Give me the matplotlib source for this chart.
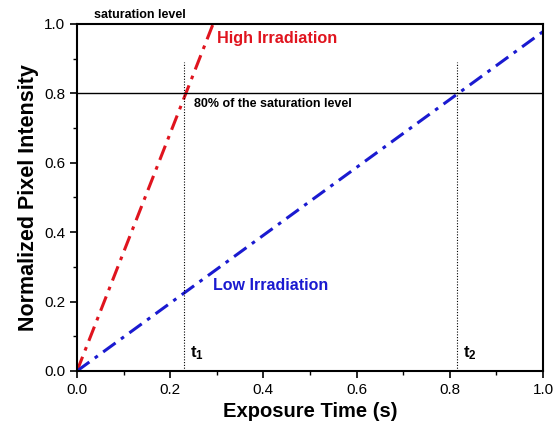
import matplotlib.pyplot as plt
from matplotlib.ticker import MultipleLocator

plt.rcParams['font.family'] = ['Liberation Sans', 'DejaVu Sans']
plt.rcParams['mathtext.fontset'] = 'custom'
plt.rcParams['mathtext.rm'] = 'Liberation Sans'
plt.rcParams['mathtext.bf'] = 'Liberation Sans:bold'

# Data
high_time = [0.0, 0.292]
high_intensity = [0.0, 1.0]
low_time = [0.0, 1.0]
low_intensity = [0.0, 0.978]
t1 = 0.229
t2 = 0.816
level_80 = 0.8

fig = plt.figure(figsize=(5.59, 4.30), dpi=100)
ax = fig.add_axes([77 / 559, 59 / 430, 466 / 559, 347 / 430])

dashdot = (0, (5, 2.2, 1.2, 2.2))
ax.plot(high_time, high_intensity, color='#e0141e', lw=2.2, linestyle=dashdot)
ax.plot(low_time, low_intensity, color='#1a1ad0', lw=2.2, linestyle=dashdot)

ax.axhline(level_80, color='black', lw=1)
ax.plot([t1, t1], [0, 0.89], color='black', lw=0.8, linestyle=(0, (1, 1.5)))
ax.plot([t2, t2], [0, 0.89], color='black', lw=0.8, linestyle=(0, (1, 1.5)))

ax.text(0.036, 1.026, 'saturation level', fontsize=9, fontweight='bold', va='center')
ax.text(0.25, 0.769, '80% of the saturation level', fontsize=9, fontweight='bold', va='center')
ax.text(0.30, 0.959, 'High Irradiation', fontsize=11.7, fontweight='bold', color='#e0141e', va='center')
ax.text(0.292, 0.245, 'Low Irradiation', fontsize=11.5, fontweight='bold', color='#1a1ad0', va='center')
ax.text(0.242, 0.052, r'$\mathbf{t_1}$', fontsize=12, va='center')
ax.text(0.829, 0.052, r'$\mathbf{t_2}$', fontsize=12, va='center')

ax.set_xlim(0, 1)
ax.set_ylim(0, 1)
ax.xaxis.set_major_locator(MultipleLocator(0.2))
ax.xaxis.set_minor_locator(MultipleLocator(0.1))
ax.yaxis.set_major_locator(MultipleLocator(0.2))
ax.yaxis.set_minor_locator(MultipleLocator(0.1))
ax.tick_params(which='major', direction='out', length=5, width=1.2, labelsize=11)
ax.tick_params(which='minor', direction='out', length=3, width=1.0)
for s in ax.spines.values():
    s.set_linewidth(1.5)

ax.set_xlabel('Exposure Time (s)', fontsize=14.5, fontweight='bold')
ax.set_ylabel('Normalized Pixel Intensity', fontsize=15.5, fontweight='bold')

plt.savefig('out.png', dpi=100)
